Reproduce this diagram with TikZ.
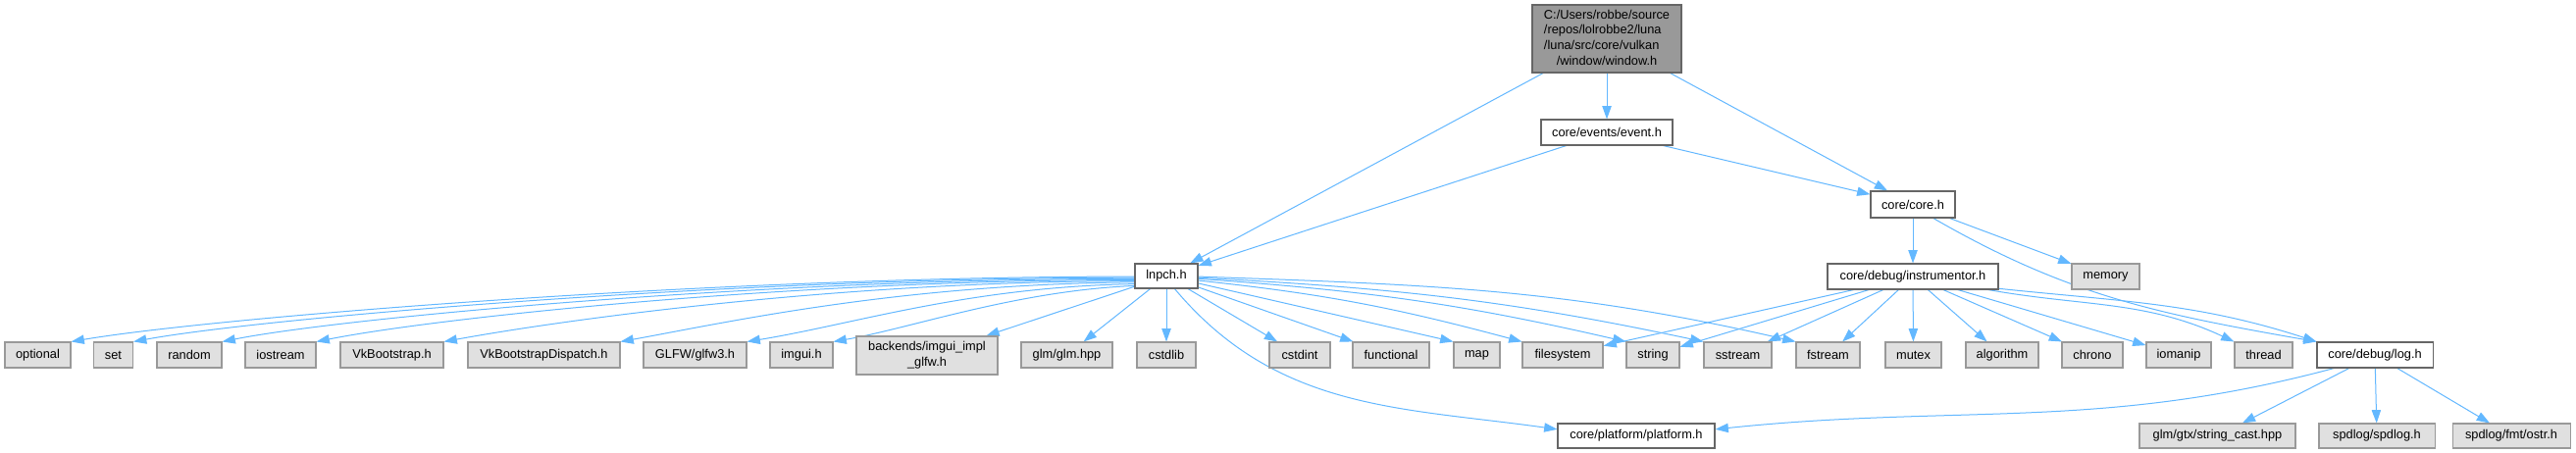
\documentclass[tikz,border=0pt]{standalone}
\usepackage{fontspec}
\setmainfont{Liberation Sans}
\usetikzlibrary{arrows.meta,backgrounds}
\definecolor{edgec}{HTML}{63B8FF}
\definecolor{rootfill}{HTML}{999999}
\definecolor{bordd}{HTML}{666666}
\definecolor{gfill}{HTML}{E0E0E0}
\definecolor{gbord}{HTML}{999999}
\begin{document}
\begin{tikzpicture}[x=0.75pt,y=-0.75pt,
  nbox/.style 2 args={draw, line width=0.8pt, inner sep=0pt,
    minimum width=#1*0.75pt, minimum height=#2*0.75pt,
    font=\fontsize{9.6}{11.8}\selectfont, anchor=center, align=center},
  wbox/.style 2 args={nbox={#1}{#2}, fill=white, draw=bordd},
  gbox/.style 2 args={nbox={#1}{#2}, fill=gfill, draw=gbord},
  rbox/.style 2 args={nbox={#1}{#2}, fill=rootfill, draw=bordd},
  lnk/.style={draw=edgec, line width=0.75pt, -{Triangle[length=10pt,width=7pt]}}
]
\useasboundingbox (0,0) rectangle (2626,461);

% nodes
\node[rbox={152}{69}] (root) at (1638,39.5)
  {\begin{tabular}{@{}l@{}}C:/Users/robbe/source\\/repos/lolrobbe2/luna\\/luna/src/core/vulkan\\\multicolumn{1}{@{}c@{}}{/window/window.h}\end{tabular}};
\node[wbox={134}{26}] (event) at (1638,135) {core/events/event.h};
\node[wbox={64}{25}] (lnpch) at (1189,281.5) {lnpch.h};
\node[wbox={86}{27}] (core) at (1950,208.5) {core/core.h};
\node[wbox={174}{26}] (instr) at (1950,282) {core/debug/instrumentor.h};
\node[gbox={69}{26}] (memory) at (2146.5,282) {memory};

\node[gbox={67}{26}] (optional) at (38.5,362) {optional};
\node[gbox={40}{26}] (set) at (115.5,362) {set};
\node[gbox={66}{26}] (random) at (193,362) {random};
\node[gbox={72}{26}] (iostream) at (286,362) {iostream};
\node[gbox={105}{26}] (vkb) at (399.5,362) {VkBootstrap.h};
\node[gbox={155}{26}] (vkbd) at (554.5,362) {VkBootstrapDispatch.h};
\node[gbox={105}{26}] (glfw) at (708.5,362) {GLFW/glfw3.h};
\node[gbox={64}{26}] (imgui) at (817,362) {imgui.h};
\node[gbox={144}{39}] (backends) at (945,362.5) {backends/imgui\_impl\\\_glfw.h};
\node[gbox={93}{26}] (glm) at (1087.5,362) {glm/glm.hpp};
\node[gbox={60}{26}] (cstdlib) at (1189,362) {cstdlib};
\node[gbox={62}{26}] (cstdint) at (1325,362) {cstdint};
\node[gbox={78}{26}] (functional) at (1418,362) {functional};
\node[gbox={47}{26}] (map) at (1505.5,362) {map};
\node[gbox={82}{26}] (filesystem) at (1593,362) {filesystem};
\node[gbox={54}{26}] (string) at (1685,362) {string};
\node[gbox={69}{26}] (sstream) at (1771.5,362) {sstream};
\node[gbox={65}{26}] (fstream) at (1863.5,362) {fstream};
\node[gbox={57}{26}] (mutex) at (1950.5,362) {mutex};
\node[gbox={74}{26}] (algorithm) at (2041,362) {algorithm};
\node[gbox={62}{26}] (chrono) at (2133,362) {chrono};
\node[gbox={66}{26}] (iomanip) at (2221,362) {iomanip};
\node[gbox={59}{26}] (thread) at (2307.5,362) {thread};
\node[wbox={118}{26}] (log) at (2421,362) {core/debug/log.h};

\node[wbox={160}{25}] (platform) at (1668,444.5) {core/platform/platform.h};
\node[gbox={159}{25}] (strcast) at (2260.5,444.5) {glm/gtx/string\_cast.hpp};
\node[gbox={118}{25}] (spdlog) at (2423,444.5) {spdlog/spdlog.h};
\node[gbox={120}{25}] (ostr) at (2560,444.5) {spdlog/fmt/ostr.h};

\begin{scope}[on background layer]
\fill[white] (0,0) rectangle (2626,461);
% root
\draw[lnk] (root) -- (lnpch);
\draw[lnk] (root) -- (event);
\draw[lnk] (root) -- (core);
% event
\draw[lnk] (event) -- (lnpch);
\draw[lnk] (event) -- (core);
% core
\draw[lnk] (core) -- (instr);
\draw[lnk] (core) -- (memory);
\draw[lnk] (core.-34) to[out=-30,in=170] (log.north west);
% lnpch left
\draw[lnk] (lnpch.181) .. controls +(-430,0) and +(140,-24) .. (optional.north east);
\draw[lnk] (lnpch.183) .. controls +(-410,0) and +(130,-24) .. (set.north east);
\draw[lnk] (lnpch.185) .. controls +(-380,0) and +(120,-24) .. (random.north east);
\draw[lnk] (lnpch.187) .. controls +(-350,0) and +(120,-24) .. (iostream.north east);
\draw[lnk] (lnpch.189) .. controls +(-300,0) and +(120,-22) .. (vkb.north east);
\draw[lnk] (lnpch.191) .. controls +(-240,2) and +(110,-20) .. (vkbd.north east);
\draw[lnk] (lnpch.194) .. controls +(-170,3) and +(110,-18) .. (glfw.north east);
\draw[lnk] (lnpch.197) .. controls +(-120,5) and +(80,-14) .. (imgui.north east);
\draw[lnk] (lnpch) -- (backends);
\draw[lnk] (lnpch) -- (glm);
\draw[lnk] (lnpch) -- (cstdlib);
% lnpch right
\draw[lnk] (lnpch) -- (cstdint);
\draw[lnk] (lnpch) -- (functional);
\draw[lnk] (lnpch) -- (map.north west);
\draw[lnk] (lnpch.-8) to[out=-6,in=165] (filesystem.north west);
\draw[lnk] (lnpch.-5) to[out=-4,in=167] (string.north west);
\draw[lnk] (lnpch.-3) to[out=-3,in=168] (sstream.north west);
\draw[lnk] (lnpch.-1) to[out=-2,in=167] (fstream.north west);
\draw[lnk] (lnpch.-57) to[out=-50,in=172] ([yshift=5pt]platform.west);
% instrumentor
\draw[lnk] (instr) -- (filesystem);
\draw[lnk] (instr) -- (string);
\draw[lnk] (instr) -- (sstream);
\draw[lnk] (instr) -- (fstream);
\draw[lnk] (instr) -- (mutex);
\draw[lnk] (instr) -- (algorithm);
\draw[lnk] (instr) -- (chrono);
\draw[lnk] (instr) -- (iomanip);
\draw[lnk] (instr.-10) to[out=-10,in=155] (thread.north west);
\draw[lnk] (instr.-8) to[out=-6,in=162] (log.north west);
% log
\draw[lnk] (log.198) to[out=195,in=6] ([yshift=5pt]platform.east);
\draw[lnk] (log) -- (strcast);
\draw[lnk] (log) -- (spdlog);
\draw[lnk] (log) -- (ostr);
\end{scope}
\end{tikzpicture}
\end{document}
